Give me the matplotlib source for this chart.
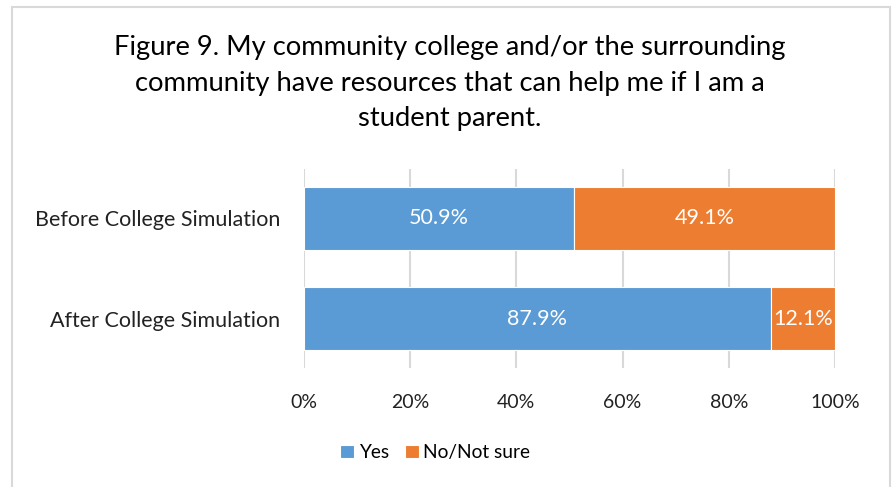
import matplotlib.pyplot as plt
from matplotlib.patches import Rectangle

plt.rcParams['font.family'] = ['Lato', 'DejaVu Sans']

categories = ["After College Simulation", "Before College Simulation"]
yes = [87.9, 50.9]
not_sure = [12.1, 49.1]
xticks = [0, 20, 40, 60, 80, 100]

blue = "#5B9BD5"
orange = "#ED7D31"

fig = plt.figure(figsize=(8.94, 4.87), dpi=100)
ax = fig.add_axes([0.340, 0.2444, 0.594, 0.4086])

ypos = range(len(categories))
ax.barh(ypos, yes, height=0.63, color=blue, edgecolor="white", linewidth=0.8,
        label="Yes", zorder=3)
ax.barh(ypos, not_sure, left=yes, height=0.63, color=orange, edgecolor="white",
        linewidth=0.8, label="No/Not sure", zorder=3)

for i in ypos:
    ax.text(yes[i] / 2, i, f"{yes[i]:.1f}%", ha="center", va="center",
            color="white", fontsize=15.5, zorder=4)
    ax.text(yes[i] + not_sure[i] / 2, i, f"{not_sure[i]:.1f}%", ha="center",
            va="center", color="white", fontsize=15.5, zorder=4)

ax.set_xlim(0, 100)
ax.set_ylim(-0.49, 1.49)
ax.set_xticks(xticks)
ax.set_xticklabels([f"{v}%" for v in xticks], fontsize=14, color="#222222")
ax.set_yticks(list(ypos))
ax.set_yticklabels(categories, fontsize=15.5, color="#222222")
ax.tick_params(axis="both", length=0)
ax.tick_params(axis="x", pad=19)
ax.tick_params(axis="y", pad=17)
ax.grid(axis="x", color="#D9D9D9", linewidth=1.5, zorder=0)
for s in ax.spines.values():
    s.set_visible(False)

fig.text(0.503, 0.903, "Figure 9. My community college and/or the surrounding",
         ha="center", va="center", fontsize=19.7)
fig.text(0.503, 0.829, "community have resources that can help me if I am a",
         ha="center", va="center", fontsize=19.7)
fig.text(0.503, 0.757, "student parent.", ha="center", va="center", fontsize=19.7)

fig.legend(loc="center", bbox_to_anchor=(0.487, 0.070), ncol=2, frameon=False,
           fontsize=13.8, handlelength=0.7, handleheight=0.7,
           handletextpad=0.25, columnspacing=0.85)

fig.patches.append(Rectangle((12 / 894, -0.05), 878 / 894, 1 - 7 / 487 + 0.05,
                             transform=fig.transFigure, fill=False,
                             edgecolor="#D9D9D9", linewidth=1.5))

fig.savefig("out.png", dpi=100)
